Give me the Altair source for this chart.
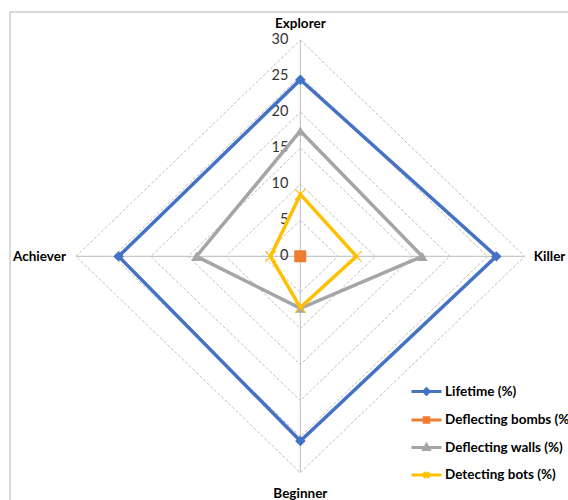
import altair as alt
import pandas as pd

# Player-type axes, clockwise from the top
axes = ["Explorer", "Killer", "Beginner", "Achiever"]

series = ["Lifetime (%)", "Deflecting bombs (%)", "Deflecting walls (%)", "Detecting bots (%)"]

lifetime = [24.5, 26.2, 25.6, 24.3]
deflecting_bombs = [0, 0, 0, 0]
deflecting_walls = [17.4, 16.3, 7.2, 13.9]
detecting_bots = [8.6, 7.5, 7.1, 4.0]

ticks = [0, 5, 10, 15, 20, 25, 30]

# Styling
colors = ["#4472C4", "#ED7D31", "#A5A5A5", "#FFC000"]
font = "Lato"

values_by_series = [lifetime, deflecting_bombs, deflecting_walls, detecting_bots]
rows = []
for name, vals in zip(series, values_by_series):
    for i, (ax, v) in enumerate(zip(axes, vals)):
        rows.append({"series": name, "axis": ax, "idx": i, "value": v})
df = pd.DataFrame(rows)

ring_df = pd.DataFrame(
    [{"level": t, "idx": i} for t in ticks[1:] for i in range(len(axes))]
)
spoke_df = pd.DataFrame({"axis": axes, "idx": list(range(len(axes))), "value": ticks[-1]})
tick_df = pd.DataFrame({"tick": ticks})

x_scale = alt.Scale(domain=[-40.16, 35.78], nice=False, zero=False)
y_scale = alt.Scale(domain=[-33.79, 35.56], nice=False, zero=False)


def to_xy(chart, r_field):
    """Convert (idx, radius) into cartesian px/py, axis 0 pointing up, clockwise."""
    return chart.transform_calculate(
        px=f"datum.{r_field} * sin(datum.idx * PI / 2)",
        py=f"datum.{r_field} * cos(datum.idx * PI / 2)",
    )


X = alt.X("px:Q", scale=x_scale, axis=None)
Y = alt.Y("py:Q", scale=y_scale, axis=None)

# Outer frame (top and left edges)
frame_src = alt.Data(values=[{"k": 0}])
frame_top = alt.Chart(frame_src).mark_rule(color="#b3b3b3", strokeWidth=1).encode(
    x=alt.value(10), x2=alt.value(568), y=alt.value(12)
)
frame_left = alt.Chart(frame_src).mark_rule(color="#b3b3b3", strokeWidth=1).encode(
    x=alt.value(10), y=alt.value(12), y2=alt.value(500)
)

# Dashed grid diamonds
rings = to_xy(alt.Chart(ring_df), "level").mark_line(
    interpolate="linear-closed", color="#bdbdbd", strokeWidth=1, strokeDash=[3, 2]
).encode(x=X, y=Y, detail="level:N", order="idx:Q")

# Solid spokes
spokes = alt.Chart(spoke_df).transform_calculate(
    px="datum.value * sin(datum.idx * PI / 2)",
    py="datum.value * cos(datum.idx * PI / 2)",
    ox="0",
    oy="0",
).mark_rule(color="#c8c8c8", strokeWidth=1.2).encode(
    x=alt.X("ox:Q", scale=x_scale, axis=None),
    y=alt.Y("oy:Q", scale=y_scale, axis=None),
    x2="px:Q",
    y2="py:Q",
)

# Radial tick labels along the top spoke
tick_labels = alt.Chart(tick_df).transform_calculate(px="0", py="datum.tick").mark_text(
    align="right", baseline="middle", dx=-12, font=font, fontSize=14.5, color="#333333"
).encode(x=X, y=Y, text="tick:Q")

# Axis names
label_cfg = {
    "Explorer": dict(align="center", baseline="middle", dy=-16),
    "Killer": dict(align="left", baseline="middle", dx=9, dy=1),
    "Beginner": dict(align="center", baseline="middle", dy=21),
    "Achiever": dict(align="right", baseline="middle", dx=-10, dy=1),
}
axis_labels = []
for ax, cfg in label_cfg.items():
    axis_labels.append(
        to_xy(alt.Chart(spoke_df), "value")
        .transform_filter(alt.datum.axis == ax)
        .mark_text(font=font, fontSize=13.5, fontWeight="bold", color="#000000", **cfg)
        .encode(x=X, y=Y, text="axis:N")
    )

# Series polygons and markers
marker_shapes = ["diamond", "square", "triangle-up", "M-1,-1L1,1M-1,1L1,-1"]
marker_sizes = [110, 130, 110, 110]
series_layers = []
for name, col, shp, sz in zip(series, colors, marker_shapes, marker_sizes):
    base = to_xy(alt.Chart(df), "value").transform_filter(alt.datum.series == name)
    series_layers.append(
        base.mark_line(interpolate="linear-closed", color=col, strokeWidth=3.5).encode(
            x=X, y=Y, order="idx:Q"
        )
    )
    if shp.startswith("M"):
        pts = base.mark_point(shape=shp, filled=False, color=col, strokeWidth=1.2, size=sz, opacity=1)
    else:
        pts = base.mark_point(shape=shp, filled=True, color=col, size=sz, opacity=1)
    series_layers.append(pts.encode(x=X, y=Y))

# Legend: a line segment with the series marker through it
legend_shapes = [
    "M-1,0H1M-0.18,0L0,-0.18L0.18,0L0,0.18Z",
    "M-1,0H1M-0.15,-0.15H0.15V0.15H-0.15Z",
    "M-1,0H1M-0.18,0.14L0,-0.18L0.18,0.14Z",
    "M-1,0H1M-0.18,-0.18L0.18,0.18M-0.18,0.18L0.18,-0.18",
]
leg = alt.Legend(
    title=None,
    orient="none",
    legendX=410,
    legendY=375,
    symbolSize=900,
    symbolStrokeWidth=3,
    symbolOpacity=1,
    labelFont=font,
    labelFontSize=13.5,
    labelFontWeight="bold",
    labelColor="#000000",
    labelOffset=2,
    rowPadding=2.5,
    padding=0,
    labelLimit=400,
)
legend_layer = to_xy(alt.Chart(df), "value").transform_filter("false").mark_point(
    filled=True, opacity=1
).encode(
    x=X,
    y=Y,
    fill=alt.Fill("series:N", scale=alt.Scale(domain=series, range=colors), legend=leg),
    stroke=alt.Stroke("series:N", scale=alt.Scale(domain=series, range=colors), legend=leg),
    shape=alt.Shape("series:N", scale=alt.Scale(domain=series, range=legend_shapes), legend=leg),
)

chart = alt.layer(
    frame_top,
    frame_left,
    rings,
    spokes,
    tick_labels,
    *axis_labels,
    *series_layers,
    legend_layer,
).properties(
    width=568,
    height=500,
    padding=0,
    autosize=alt.AutoSizeParams(type="none"),
).configure_view(stroke=None)

chart.save("out.html", embed_options={"renderer": "svg", "actions": False})
